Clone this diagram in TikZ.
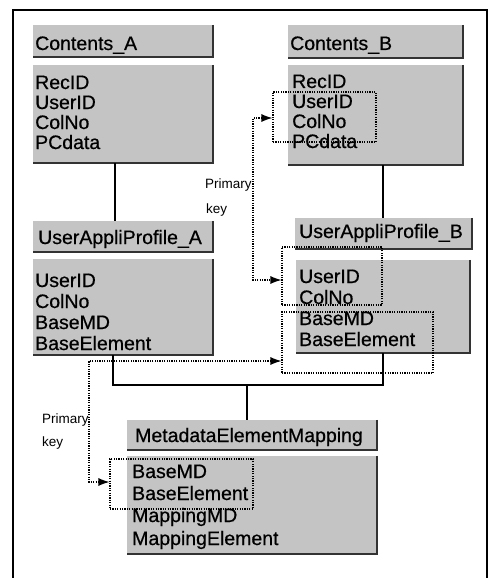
\documentclass[tikz,border=0pt]{standalone}
\usepackage{fontspec}
\setmainfont{Liberation Sans}
\newfontfamily\heavy{Liberation Sans}[FakeBold=0.6]
\usetikzlibrary{arrows.meta,fit}
\definecolor{boxgray}{gray}{0.77}
\begin{document}
\begin{tikzpicture}[x=1pt,y=-1pt,
  tbl/.style={fill=boxgray,draw=none,inner sep=0pt},
  shade/.style={draw=black!80,line width=1.6pt},
  fld/.style={anchor=base west,inner sep=0pt,font=\heavy\fontsize{19.5}{20}\selectfont},
  lbl/.style={anchor=base west,inner sep=0pt,font=\fontsize{13.5}{14}\selectfont},
  conn/.style={line width=1.5pt},
  keybox/.style={draw,line width=1.1pt,dash pattern=on 1.2pt off 1.2pt},
  keylink/.style={line width=1.1pt,dash pattern=on 1.2pt off 1.2pt,{Latex[length=11pt,width=8pt]}-{Latex[length=11pt,width=8pt]}}]
\useasboundingbox (0,0) rectangle (496,578);
% frame (open at bottom)
\draw[line width=1.6pt] (13,578) -- (13,10) -- (487,10) -- (487,578);

% ---------- boxes ----------
\node[tbl,fit={(33,25) (213,57)}] (cah) {};
\node[tbl,fit={(33,65) (213,163)}] (cab) {};
\node[tbl,fit={(288,25) (463,58)}] (cbh) {};
\node[tbl,fit={(288,65) (463,165)}] (cbb) {};
\node[tbl,fit={(33,221) (213,252)}] (uah) {};
\node[tbl,fit={(33,259) (213,355)}] (uab) {};
\node[tbl,fit={(295,218) (472,249)}] (ubh) {};
\node[tbl,fit={(296,260) (470,353)}] (ubb) {};
\node[tbl,fit={(127,420) (377,450)}] (mh) {};
\node[tbl,fit={(127,456) (377,554)}] (mb) {};
\foreach \n in {cah,cab,cbh,cbb,uah,uab,ubh,ubb,mh,mb}
  \draw[shade] (\n.north east) -- (\n.south east) -- (\n.south west);

% ---------- texts ----------
\node[fld] (t1) at (35,50) {Contents\_A};
\node[fld] (t2) at (35,89) {RecID};
\node[fld] (t3) at (35,109) {UserID};
\node[fld] (t4) at (35,129) {ColNo};
\node[fld] (t5) at (35,149) {PCdata};

\node[fld] (t6) at (290,50) {Contents\_B};
\node[fld] (t7) at (292,88) {RecID};
\node[fld] (t8) at (292,108) {UserID};
\node[fld] (t9) at (292,128) {ColNo};
\node[fld] (t10) at (292,148) {PCdata};

\node[fld] (t11) at (38,244) {UserAppliProfile\_A};
\node[fld] (t12) at (35,287) {UserID};
\node[fld] (t13) at (35,308) {ColNo};
\node[fld] (t14) at (35,329) {BaseMD};
\node[fld] (t15) at (35,350) {BaseElement};

\node[fld] (t16) at (299,238) {UserAppliProfile\_B};
\node[fld] (t17) at (299,283) {UserID};
\node[fld] (t18) at (299,304) {ColNo};
\node[fld] (t19) at (299,325) {BaseMD};
\node[fld] (t20) at (299,346) {BaseElement};

\node[fld] (t21) at (135,442) {MetadataElementMapping};
\node[fld] (t22) at (132,478) {BaseMD};
\node[fld] (t23) at (132,500) {BaseElement};
\node[fld] (t24) at (132,522) {MappingMD};
\node[fld] (t25) at (132,545) {MappingElement};

\node[lbl] (p1) at (205,188) {Primary};
\node[lbl] (k1) at (206,213) {key};
\node[lbl] (p2) at (42,423) {Primary};
\node[lbl] (k2) at (42,446) {key};

% ---------- solid connectors ----------
\coordinate (j1) at (113,385);
\coordinate (j2) at (383,385);
\coordinate (j3) at (247,385);
\draw[conn] (cab.south -| 115,0) -- (uah.north -| 115,0);
\draw[conn] (cbb.south -| 383,0) -- (ubh.north -| 383,0);
\draw[conn] (uab.south -| j1) -- (j1) -- (j2) -- (ubb.south -| j2);
\draw[conn] (j3) -- (mh.north -| j3);

% ---------- key boxes ----------
\node[keybox,inner sep=0pt,fit={(273,92) (376,142)}] (kb1) {};
\node[keybox,inner sep=0pt,fit={(282,247) (382,305)}] (kb2) {};
\node[keybox,inner sep=0pt,fit={(282,312) (433,373)}] (kb3) {};
\node[keybox,inner sep=0pt,fit={(110,459) (253,509)}] (kb4) {};

% ---------- key links ----------
\coordinate (d1) at (253,118);
\coordinate (d2) at (253,280);
\draw[keylink] (kb1.west |- d1) -- (d1) -- (d2) -- (kb2.west |- d2);
\coordinate (d3) at (89,361);
\coordinate (d4) at (89,482);
\draw[keylink] (kb3.west |- d3) -- (d3) -- (d4) -- (kb4.west |- d4);
\end{tikzpicture}
\end{document}
